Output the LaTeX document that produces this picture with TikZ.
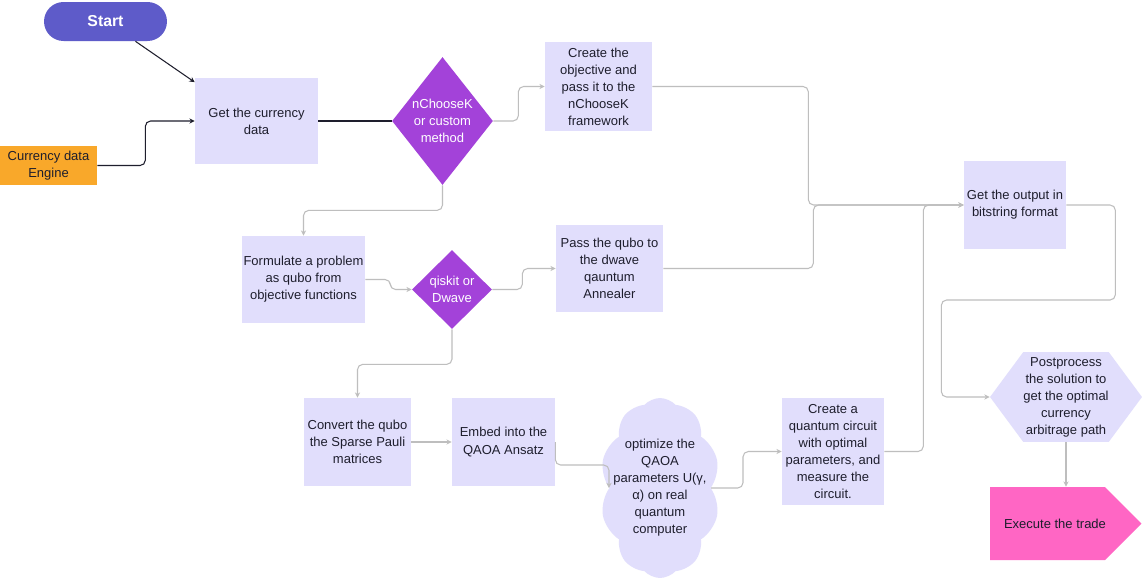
\documentclass[tikz,border=0pt]{standalone}
\usepackage{fontspec}
\setmainfont{Liberation Sans}
\usetikzlibrary{shapes.geometric,shapes.symbols,arrows.meta}
\definecolor{lav}{RGB}{225,222,252}
\definecolor{purp}{RGB}{163,66,217}
\definecolor{indig}{RGB}{94,91,201}
\definecolor{orng}{RGB}{249,168,42}
\definecolor{pnk}{RGB}{255,102,196}
\definecolor{ink}{RGB}{30,30,45}
\definecolor{wire}{RGB}{190,190,190}
\begin{document}
\begin{tikzpicture}[x=0.02cm,y=-0.02cm,
	txt/.style={font=\fontsize{7.4}{9.7}\selectfont,text=ink,align=center,inner sep=0pt},
	box/.style={txt,fill=lav,minimum width=#1},
	box/.default=2.14cm,
	choice/.style={diamond,fill=purp,txt,text=white},
	flow/.style={draw=wire,line width=0.6pt,rounded corners=3pt,-{Stealth[length=3pt,width=3pt]}},
	main/.style={draw=ink,line width=0.6pt,rounded corners=3pt}]
				\useasboundingbox[fill=white] (0,0) rectangle (1143,582);
				
				\path (105.5,21.5) node[fill=indig,rounded corners=0.39cm,minimum width=2.46cm,minimum height=0.78cm,text=white,font=\fontsize{9}{11}\selectfont\bfseries] (start) {Start};
				\path (48.5,165.5) node[txt,fill=orng,minimum width=1.94cm,minimum height=0.78cm] (engine) {Currency data\\Engine};
				\path (256.5,121) node[box=2.46cm,minimum height=1.74cm] (currency) {Get the currency\\data};
				\path (442.5,121) node[choice,shape aspect=0.79,minimum width=2.02cm,minimum height=2.56cm] (choose) {nChooseK\\or custom\\method};
				\path (598.5,86.5) node[box,minimum height=1.78cm] (objective) {Create the\\objective and\\pass it to the\\nChooseK\\framework};
				\path (303.5,279.5) node[box=2.46cm,minimum height=1.74cm] (formulate) {Formulate a problem\\as qubo from\\objective functions};
				\path (452,289.5) node[choice,shape aspect=1,minimum width=1.6cm,minimum height=1.58cm] (qiskit) {qiskit or\\Dwave};
				\path (609.5,268.5) node[box,minimum height=1.74cm] (annealer) {Pass the qubo to\\the dwave\\qauntum\\Annealer};
				\path (1015,205) node[box=2.04cm,minimum height=1.76cm] (output) {Get the output in\\bitstring format};
				\path (357.5,442) node[box,minimum height=1.76cm] (convert) {Convert the qubo\\the Sparse Pauli\\matrices};
				\path (503.5,442) node[box=2.06cm,minimum height=1.76cm] (embed) {Embed into the\\QAOA Ansatz};
				\path (660,488) node[txt,cloud,cloud puffs=10,cloud puff arc=95,aspect=0.66,fill=lav,minimum width=2.4cm,minimum height=3.6cm,inner sep=-8pt] (cloud) {optimize the\\QAOA\\parameters U(γ,\\α) on real\\quantum\\computer};
				\path (833,451.5) node[box=2.04cm,minimum height=2.14cm] (circuit) {Create a\\quantum circuit\\with optimal\\parameters, and\\measure the\\circuit.};
				\path (1066,397) node[txt,signal,signal to=west and east,signal pointer angle=107,fill=lav,minimum width=3.04cm,minimum height=1.8cm] (post) {Postprocess\\the solution to\\get the optimal\\currency\\arbitrage path};
				\path (1047.5,523.5) node[txt,signal,signal to=east,signal pointer angle=90,fill=pnk] (trade) {\rule[-0.63cm]{0pt}{1.46cm}\makebox[2.3cm]{\hspace*{0.3cm}Execute the trade}};
				
				\draw[main,-{Stealth[length=3pt,width=3pt]}] ([xshift=0.6cm]start.south) -- ([yshift=-0.1cm]currency.north west);
				\draw[main,-{Stealth[length=3pt,width=3pt]}] (engine.east) -- ++(48,0) |- (currency.west);
				\draw[main] (currency.east) -- (choose.west);
				\draw[flow] (choose.east) -- ++(25,0) |- (objective.west);
				\draw[flow] (objective.east) -- ++(156,0) |- (output.west);
				\draw[flow] (choose.south) -- ++(0,25) -| (formulate.north);
				\draw[flow] (formulate.east) -- ++(25,0) |- (qiskit.west);
				\draw[flow] (qiskit.east) -- ++(30,0) |- (annealer.west);
				\draw[flow] (annealer.east) -- ++(150,0) |- (output.west);
				\draw[flow] (qiskit.south) -- ++(0,35) -| (convert.north);
				\draw[flow] (convert.east) -- (embed.west);
				\draw[flow] (embed.east) -- ++(0,23) -| (cloud.west);
				\draw[flow] (cloud.east) -- ++(32,0) |- (circuit.west);
				\draw[flow] (circuit.east) -- ++(39,0) |- (output.west);
				\draw[flow] (output.east) -- ++(49,0) -- ++(0,95) -- ++(-174,0) |- (post.west);
				\draw[flow] (post.south) -- (post.south |- trade.north);
\end{tikzpicture}
\end{document}
